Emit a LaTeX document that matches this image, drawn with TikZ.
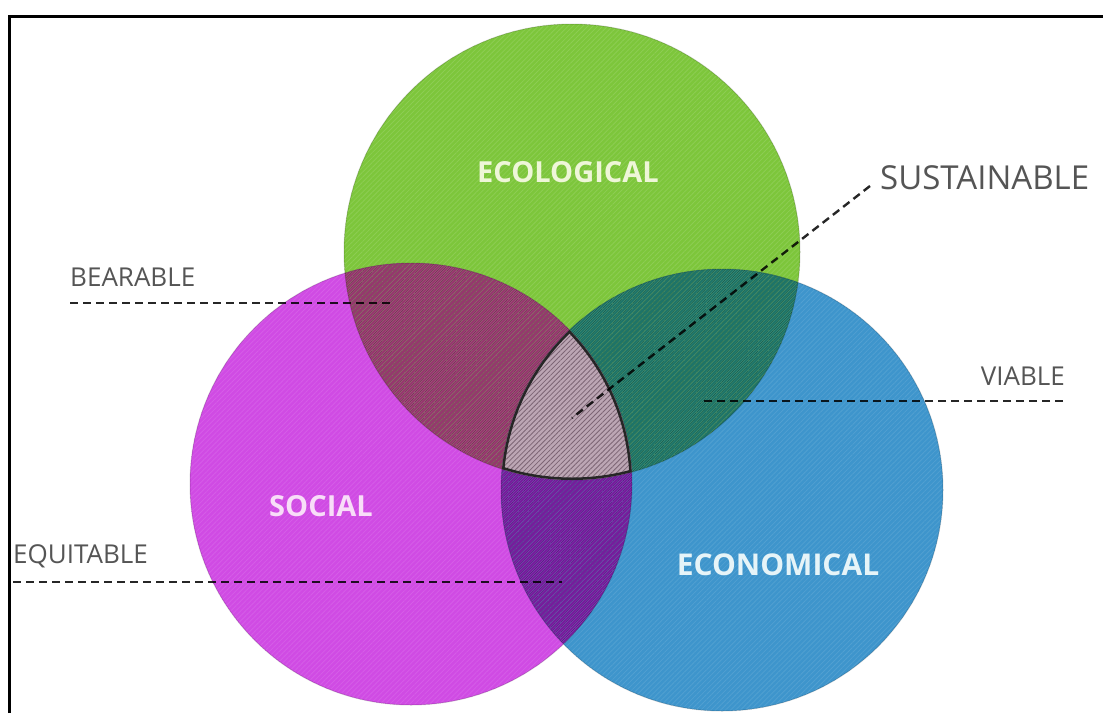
\documentclass[tikz,border=0pt]{standalone}
\usepackage{fontspec}
\setmainfont{Open Sans}
\usetikzlibrary{patterns.meta}
\definecolor{ecoG}{HTML}{7DC63B}
\definecolor{socM}{HTML}{D04BE4}
\definecolor{ecnB}{HTML}{3E95CC}
\definecolor{bearC}{HTML}{96376E}
\definecolor{viabC}{HTML}{1E7468}
\definecolor{equiC}{HTML}{761C9C}
\definecolor{centC}{HTML}{BCA6B4}
\definecolor{centL}{HTML}{7D6575}
\definecolor{ecoT}{HTML}{EEF6D8}
\definecolor{socT}{HTML}{F8DDF8}
\definecolor{ecnT}{HTML}{E6F4F8}
\definecolor{sideT}{HTML}{555555}
\begin{document}
\begin{tikzpicture}[x=1pt,y=-1pt,
  lead/.style={line width=2.4pt, dash pattern=on 8pt off 5pt, draw=black, draw opacity=0.85},
  sidelabel/.style={text=sideT, font=\fontsize{26}{26}\selectfont, inner sep=0pt},
  circlabel/.style={font=\bfseries\fontsize{29}{29}\selectfont, inner sep=0pt},
  stripes/.style={pattern={Lines[angle=45, distance=3.5pt, line width=0.8pt]}, pattern color=#1}
]
\useasboundingbox (0,0) rectangle (1103,713);
\fill[white] (0,0) rectangle (1103,713);
% centres
\coordinate (cEco) at (572,252);
\coordinate (cSoc) at (411,484);
\coordinate (cEcn) at (722,490);
% circles
\fill[ecoG] (cEco) circle (228pt);
\fill[socM] (cSoc) circle (221pt);
\fill[ecnB] (cEcn) circle (221pt);
% pairwise overlaps
\begin{scope}
  \clip (cEco) circle (228pt);
  \fill[bearC] (cSoc) circle (221pt);
  \fill[viabC] (cEcn) circle (221pt);
\end{scope}
\begin{scope}
  \clip (cSoc) circle (221pt);
  \fill[equiC] (cEcn) circle (221pt);
\end{scope}
% faint stripes, same hue (later ones cover earlier ones)
\fill[stripes=socM!90!white] (cSoc) circle (221pt);
\fill[stripes=ecnB!90!white] (cEcn) circle (221pt);
\fill[stripes=ecoG!88!white] (cEco) circle (228pt);
\begin{scope}
  \clip (cEco) circle (228pt);
  \fill[stripes=bearC!85!black] (cSoc) circle (221pt);
  \fill[stripes=viabC!85!black] (cEcn) circle (221pt);
\end{scope}
\begin{scope}
  \clip (cSoc) circle (221pt);
  \fill[stripes=equiC!85!black] (cEcn) circle (221pt);
\end{scope}
% soft edges
\draw[black, draw opacity=0.15, line width=1pt] (cEco) circle (228pt);
\draw[black, draw opacity=0.15, line width=1pt] (cSoc) circle (221pt);
\draw[black, draw opacity=0.15, line width=1pt] (cEcn) circle (221pt);
% central region
\begin{scope}
  \clip (cEco) circle (228pt);
  \clip (cSoc) circle (221pt);
  \clip (cEcn) circle (221pt);
  \fill[centC] (cEco) circle (300pt);
  \fill[stripes=centL] (cEco) circle (300pt);
  \draw[line width=5pt, black!85] (cEco) circle (228pt);
  \draw[line width=5pt, black!85] (cSoc) circle (221pt);
  \draw[line width=5pt, black!85] (cEcn) circle (221pt);
\end{scope}
% frame
\draw[line width=3.5pt, black] (9.5,713) -- (9.5,16.5) -- (1103,16.5);
% circle labels
\node[circlabel, text=ecoT] (eco) at (568,172) {ECOLOGICAL};
\node[circlabel, text=socT] (soc) at (321,506) {SOCIAL};
\node[circlabel, text=ecnT, font=\bfseries\fontsize{30}{30}\selectfont] (ecn) at (778,565) {ECONOMICAL};
% side labels
\node[sidelabel, anchor=west] (bear) at (70,277) {BEARABLE};
\node[sidelabel, anchor=west] (equi) at (13,556) {EQUITABLE};
\node[sidelabel, anchor=east] (viab) at (1065,376) {VIABLE};
\node[sidelabel, anchor=west, font=\fontsize{33}{33}\selectfont] (sust) at (880,178) {SUSTAINABLE};
% leader lines
\coordinate (bearA) at (70,303);
\coordinate (bearB) at (390,303);
\coordinate (equiA) at (13,582);
\coordinate (equiB) at (562,582);
\coordinate (viabA) at (1063,401);
\coordinate (viabB) at (704,401);
\coordinate (sustA) at (870,186);
\coordinate (sustB) at (572,418);
\draw[lead] (bearA) -- (bearB);
\draw[lead] (equiA) -- (equiB);
\draw[lead] (viabA) -- (viabB);
\draw[lead] (sustA) -- (sustB);
\end{tikzpicture}
\end{document}
